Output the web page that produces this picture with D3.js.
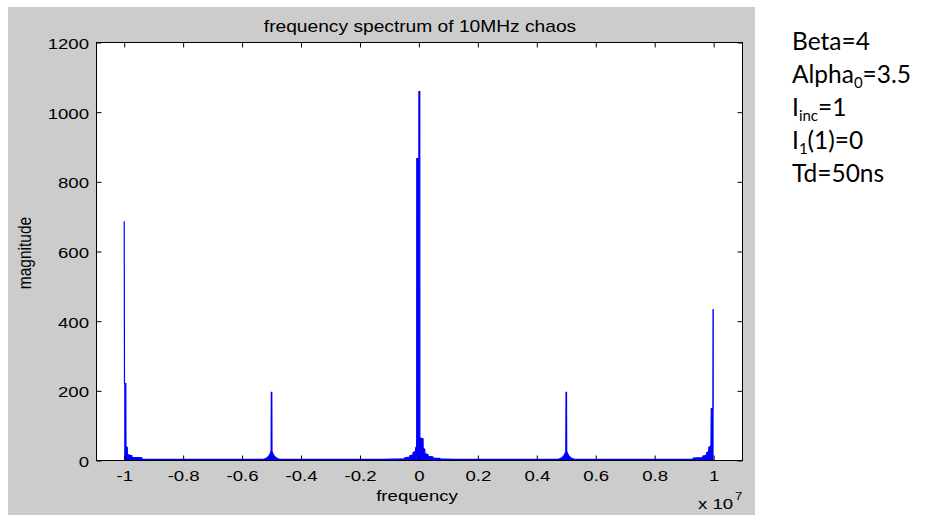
<!DOCTYPE html>
<html>
<head>
<meta charset="utf-8">
<script src="https://cdn.jsdelivr.net/npm/d3@7/dist/d3.min.js"></script>
<style>
    html, body { margin: 0; padding: 0; background: #fff; }
    svg { display: block; }
</style>
</head>
<body>
<div id="chart"></div>
<script>
// spectrum, frequency in units of 1e7 Hz
let freq = [
    -1.0000, -0.9990, -0.9945, -0.9940, -0.9895, -0.9890, -0.9740, -0.9735, -0.9400, -0.9395,
    -0.9000, -0.8000, -0.7000, -0.6000, -0.5300,
    -0.5230, -0.5150, -0.5080, -0.5040, -0.5015, -0.5008, -0.4992, -0.4985, -0.4960, -0.4920,
    -0.4850, -0.4770, -0.4700, -0.3000, -0.2000, -0.1200, -0.0880,
    -0.0480, -0.0475, -0.0310, -0.0305, -0.0200, -0.0195, -0.0117, -0.0112, -0.0078, -0.0075,
    -0.0072, -0.0002, 0.0000, 0.0030, 0.0033, 0.0140, 0.0145, 0.0198, 0.0203, 0.0310,
    0.0315, 0.0480, 0.0485, 0.0710, 0.0715, 0.0880, 0.1200, 0.2000, 0.3000, 0.4700,
    0.4770, 0.4850, 0.4920, 0.4960, 0.4985, 0.4992, 0.5008, 0.5015, 0.5040, 0.5080,
    0.5150, 0.5230, 0.5300, 0.6000, 0.7000, 0.8000, 0.9000,
    0.9300, 0.9310, 0.9630, 0.9640, 0.9750, 0.9760, 0.9830, 0.9840, 0.9910, 0.9920,
    0.9975, 0.9980, 1.0000
];
let mag = [
    687, 221, 221, 40, 37, 17, 14, 9, 8, 4,
    3, 3, 3, 3, 3,
    5, 8, 14, 21, 27, 196, 196, 27, 21, 14,
    8, 5, 3, 3, 3, 3, 4,
    5, 8, 10, 14, 16, 23, 26, 36, 40, 65,
    867, 867, 1059, 1059, 65, 62, 35, 32, 20, 17,
    12, 10, 7, 6, 4, 4, 3, 3, 3, 3,
    5, 8, 14, 21, 27, 196, 196, 27, 21, 14,
    8, 5, 3, 3, 3, 3, 3,
    4, 7, 8, 13, 15, 22, 26, 38, 42, 149,
    149, 433, 433
];
let xTicks = [-1, -0.8, -0.6, -0.4, -0.2, 0, 0.2, 0.4, 0.6, 0.8, 1];
let yTicks = [0, 200, 400, 600, 800, 1000, 1200];
let paramMain = ['Beta', 'Alpha', 'I', 'I', 'Td'];
let paramSub = ['', '0', 'inc', '1', ''];
let paramRest = ['=4', '=3.5', '=1', '(1)=0', '=50ns'];

let width = 926, height = 515;
let font = '"Liberation Sans", Arial, sans-serif';
let stretch = 'scale(1.2,1)'; // picture text is a bit wider than tall

let svg = d3.select('#chart').append('svg')
    .attr('width', width)
    .attr('height', height);

//figure background
svg.append('rect')
    .attr('x', 8).attr('y', 7)
    .attr('width', 747).attr('height', 508)
    .attr('fill', '#cccccc');

let axLeft = 96.5, axRight = 742.5, axTop = 42.5, axBottom = 460.5;
let x = d3.scaleLinear().domain([-1.094, 1.098]).range([axLeft, axRight]);
let y = d3.scaleLinear().domain([0, 1200]).range([axBottom, axTop]);

svg.append('rect')
    .attr('x', axLeft).attr('y', axTop)
    .attr('width', axRight - axLeft).attr('height', axBottom - axTop)
    .attr('fill', '#fff');

let pts = freq.map((f, i) => [f, mag[i]]);

//spectrum, dense data looks filled so draw area + line
svg.append('path')
    .datum(pts)
    .attr('d', d3.area().x(d => x(d[0])).y0(y(0)).y1(d => y(d[1])))
    .attr('fill', '#0000ff');
svg.append('path')
    .datum(pts)
    .attr('d', d3.line().x(d => x(d[0])).y(d => y(d[1])))
    .attr('fill', 'none')
    .attr('stroke', '#0000ff')
    .attr('stroke-width', 1.2);

//axes, ticks inside like matlab
let gB = svg.append('g').attr('transform', 'translate(0,' + axBottom + ')')
    .call(d3.axisBottom(x).tickValues(xTicks).tickSizeInner(-5).tickSizeOuter(0).tickPadding(9.5)
        .tickFormat(d => String(d)));
let gT = svg.append('g').attr('transform', 'translate(0,' + axTop + ')')
    .call(d3.axisTop(x).tickValues(xTicks).tickSizeInner(-5).tickSizeOuter(0).tickFormat(''));
let gL = svg.append('g').attr('transform', 'translate(' + axLeft + ',0)')
    .call(d3.axisLeft(y).tickValues(yTicks).tickSizeInner(-5).tickSizeOuter(0).tickFormat(d => String(d)));
let gR = svg.append('g').attr('transform', 'translate(' + axRight + ',0)')
    .call(d3.axisRight(y).tickValues(yTicks).tickSizeInner(-5).tickSizeOuter(0).tickFormat(''));

[gB, gT, gL, gR].forEach(g => {
    g.select('.domain').remove();
    g.selectAll('line').attr('stroke', '#000');
    g.attr('font-family', font).attr('font-size', 15.5);
    g.selectAll('text').attr('fill', '#000');
});
gB.selectAll('text').attr('transform', stretch);
gL.selectAll('text')
    .attr('x', 0).attr('dy', null)
    .attr('transform', 'translate(-7.5,6) ' + stretch);

svg.append('rect')
    .attr('x', axLeft).attr('y', axTop)
    .attr('width', axRight - axLeft).attr('height', axBottom - axTop)
    .attr('fill', 'none')
    .attr('stroke', '#000');

//labels
svg.append('text')
    .attr('transform', 'translate(420,31.5) ' + stretch)
    .attr('text-anchor', 'middle')
    .attr('font-family', font).attr('font-size', 16)
    .text('frequency spectrum of 10MHz chaos');
svg.append('text')
    .attr('transform', 'translate(417,501) ' + stretch)
    .attr('text-anchor', 'middle')
    .attr('font-family', font).attr('font-size', 15.5)
    .text('frequency');
svg.append('text')
    .attr('transform', 'translate(31,253) rotate(-90) scale(1,1.2)')
    .attr('text-anchor', 'middle')
    .attr('font-family', font).attr('font-size', 15.5)
    .text('magnitude');
svg.append('text')
    .attr('transform', 'translate(698,509) ' + stretch)
    .attr('font-family', font).attr('font-size', 15.5)
    .text('x 10');
svg.append('text')
    .attr('transform', 'translate(735,500) ' + stretch)
    .attr('font-family', font).attr('font-size', 11)
    .text('7');

//parameter notes on the right
let params = svg.append('g')
    .attr('font-family', 'Lato, "Open Sans", sans-serif')
    .attr('font-size', 24.5)
    .attr('fill', '#000');
paramMain.forEach((m, i) => {
    let t = params.append('text')
        .attr('x', 792)
        .attr('y', 50 + i * 33);
    t.append('tspan').text(m);
    if (paramSub[i]) {
        t.append('tspan').attr('font-size', 15).attr('dy', 5).text(paramSub[i]);
        t.append('tspan').attr('dy', -5).text(paramRest[i]);
    } else {
        t.append('tspan').text(paramRest[i]);
    }
});
</script>
</body>
</html>
